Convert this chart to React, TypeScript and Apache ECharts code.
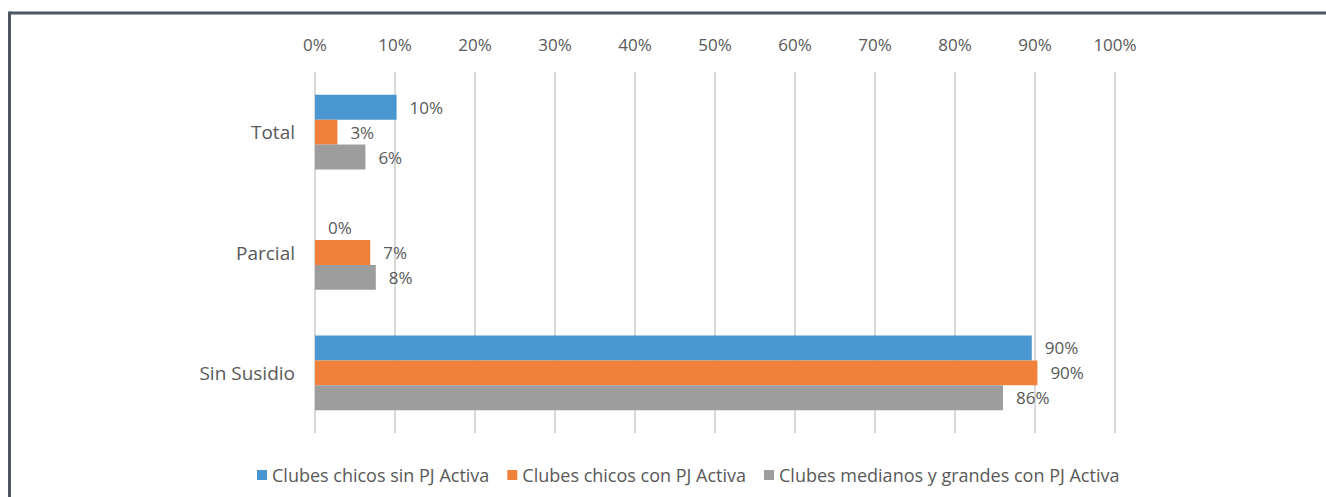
import React, { useEffect, useRef } from "react";
import * as echarts from "echarts";

const categories = ["Total", "Parcial", "Sin Susidio"];
const seriesNames = [
  "Clubes chicos sin PJ Activa",
  "Clubes chicos con PJ Activa",
  "Clubes medianos y grandes con PJ Activa",
];
const chicosSinPJ = [10.2, 0, 89.6];
const chicosConPJ = [2.8, 6.9, 90.3];
const medianosGrandes = [6.3, 7.6, 86.0];
const tickValues = [0, 10, 20, 30, 40, 50, 60, 70, 80, 90, 100];
const colors = ["#4a96d1", "#f0813a", "#9d9d9d"];

export default function App() {
  const ref = useRef<HTMLDivElement>(null);
  useEffect(() => {
    if (!ref.current) return;
    const chart = echarts.init(ref.current, undefined, { renderer: "svg" });
    const font = "'Open Sans', 'Noto Sans', sans-serif";
    const data = [chicosSinPJ, chicosConPJ, medianosGrandes];
    chart.setOption({
      animation: false,
      backgroundColor: "#ffffff",
      textStyle: { fontFamily: font, color: "#595959" },
      grid: { left: 315, right: 211, top: 72, bottom: 64, containLabel: false },
      xAxis: {
        type: "value",
        position: "top",
        min: tickValues[0],
        max: tickValues[tickValues.length - 1],
        interval: 10,
        axisLine: { show: false },
        axisTick: { show: false },
        axisLabel: {
          formatter: (v: number) => v + "%",
          color: "#595959",
          fontSize: 17,
          fontFamily: font,
          margin: 19,
        },
        splitLine: { show: true, lineStyle: { color: "#d9d9d9", width: 2 } },
      },
      yAxis: {
        type: "category",
        data: categories,
        inverse: true,
        axisLine: { show: false },
        axisTick: { show: false },
        axisLabel: { color: "#595959", fontSize: 19, fontFamily: font, margin: 20 },
      },
      legend: {
        bottom: 8,
        left: 252,
        itemWidth: 10,
        itemHeight: 10,
        itemGap: 18,
        icon: "rect",
        textStyle: { color: "#595959", fontSize: 18, fontFamily: font },
        data: seriesNames,
      },
      series: seriesNames.map((name, i) => ({
        name,
        type: "bar",
        data: data[i],
        barGap: "0%",
        barCategoryGap: "38%",
        itemStyle: { color: colors[i] },
        label: {
          show: true,
          position: "right",
          distance: 13,
          formatter: (p: any) => Math.round(p.value) + "%",
          color: "#595959",
          fontSize: 17,
          fontFamily: font,
        },
      })),
      graphic: [
        {
          type: "line",
          shape: { x1: 9.5, y1: 13, x2: 1326, y2: 13 },
          style: { stroke: "#4b5661", lineWidth: 3 },
        },
        {
          type: "line",
          shape: { x1: 9.5, y1: 11.5, x2: 9.5, y2: 497 },
          style: { stroke: "#4b5661", lineWidth: 3 },
        },
      ],
    });
    return () => chart.dispose();
  }, []);
  return (
    <div
      ref={ref}
      style={{ position: "fixed", left: 0, top: 0, width: 1326, height: 497 }}
    />
  );
}
